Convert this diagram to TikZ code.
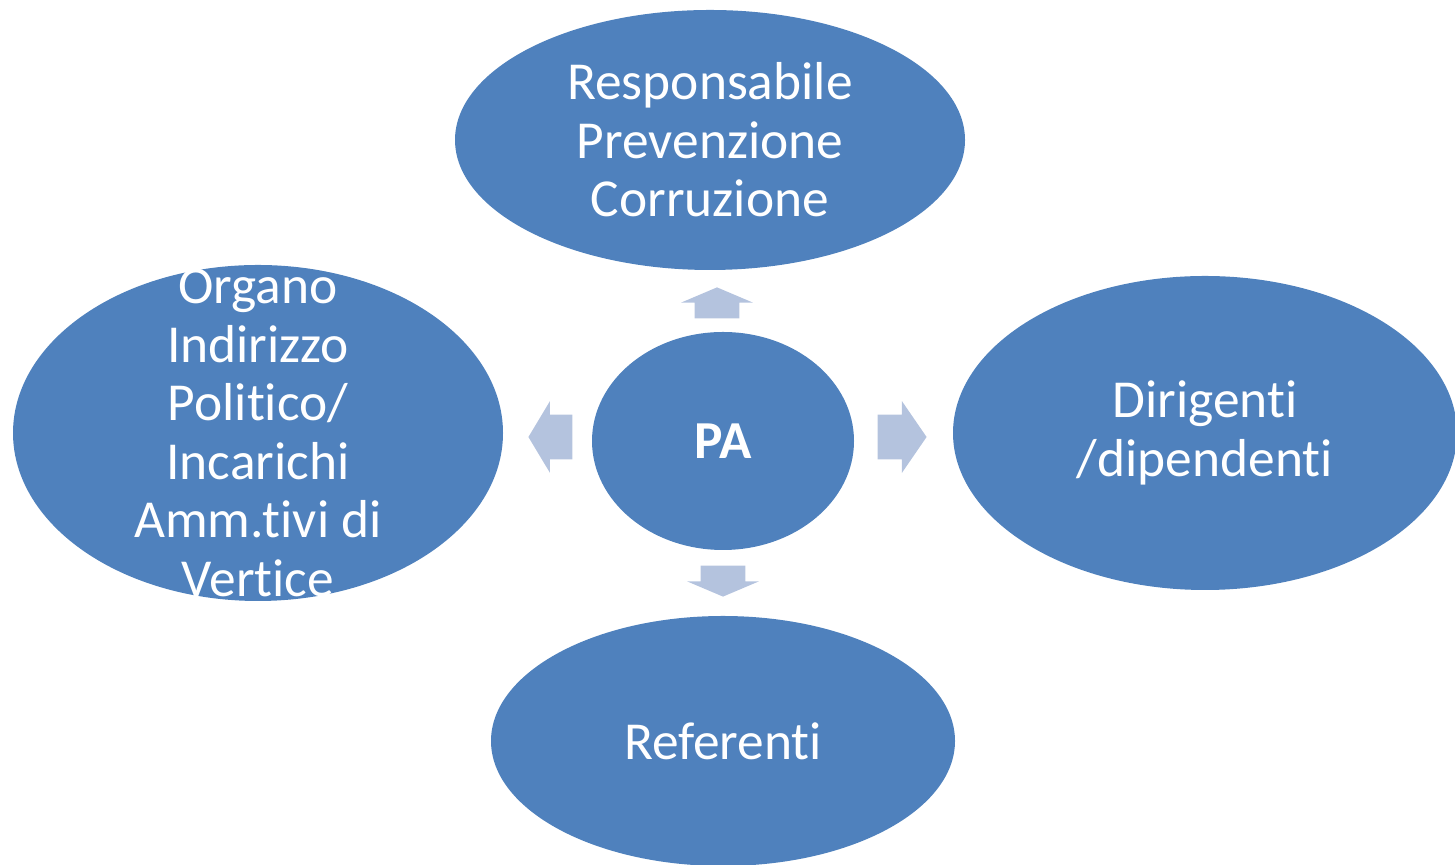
\documentclass[tikz,border=0pt]{standalone}
\usepackage{fontspec}
\setmainfont[Ligatures=NoCommon]{Carlito}
\usetikzlibrary{shapes.geometric,shapes.arrows}
\definecolor{ovalblue}{HTML}{4F81BD}
\definecolor{arrowblue}{HTML}{B4C3DE}
\newcommand{\tisep}{t\kern0pt i}
\tikzset{
  oval/.style={ellipse, fill=ovalblue, inner sep=0pt},
  ovaltext/.style={text=white, align=center, inner sep=0pt,
    font=\fontsize{30.4}{33.3}\selectfont},
  blockarrow/.style={single arrow, fill=arrowblue, inner xsep=0pt, inner ysep=0.44cm,
    minimum width=1.42cm, single arrow head extend=0.27cm, anchor=tip}
}
\begin{document}
\begin{tikzpicture}
			\useasboundingbox (0, 0) rectangle (29.1, 17.3);
			\clip (0, 0) rectangle (29.1, 17.3);
			% the four outer ovals
			\node[oval, minimum width=10.2cm, minimum height=5.2cm,
				label={[ovaltext]center:Responsabile\\Prevenzione\\Corruzione}] (rpc) at (14.2, 14.5) {};
			\node[oval, minimum width=9.8cm, minimum height=6.72cm,
				label={[ovaltext]center:Organo\\Indirizzo\\Poli\tisep co/\\Incarichi\\Amm.\tisep vi di\\Vertice}] (oip) at (5.16, 8.64) {};
			\node[oval, minimum width=10.08cm, minimum height=6.28cm,
				label={[ovaltext]center:Dirigen\tisep\\/dipenden\tisep}] (dir) at (24.1, 8.64) {};
			\node[oval, minimum width=9.28cm, minimum height=5cm,
				label={[ovaltext]center:Referen\tisep}] (ref) at (14.46, 2.48) {};
			% centre
			\node[oval, minimum width=5.24cm, minimum height=4.36cm,
				label={[ovaltext, font=\fontsize{30.4}{33.3}\selectfont\bfseries]center:PA}] (pa) at (14.46, 8.48) {};
			% block arrows, placed by their tips
			\node[blockarrow, minimum height=0.62cm, single arrow tip angle=134, rotate=90] (up) at (14.34, 11.56) {};
			\node[blockarrow, minimum height=0.88cm, single arrow tip angle=118, rotate=180] (left) at (10.56, 8.56) {};
			\node[blockarrow, minimum height=0.98cm, single arrow tip angle=111] (right) at (18.54, 8.56) {};
			\node[blockarrow, minimum height=0.62cm, single arrow tip angle=134, rotate=270] (down) at (14.46, 5.36) {};
		\end{tikzpicture}
\end{document}
